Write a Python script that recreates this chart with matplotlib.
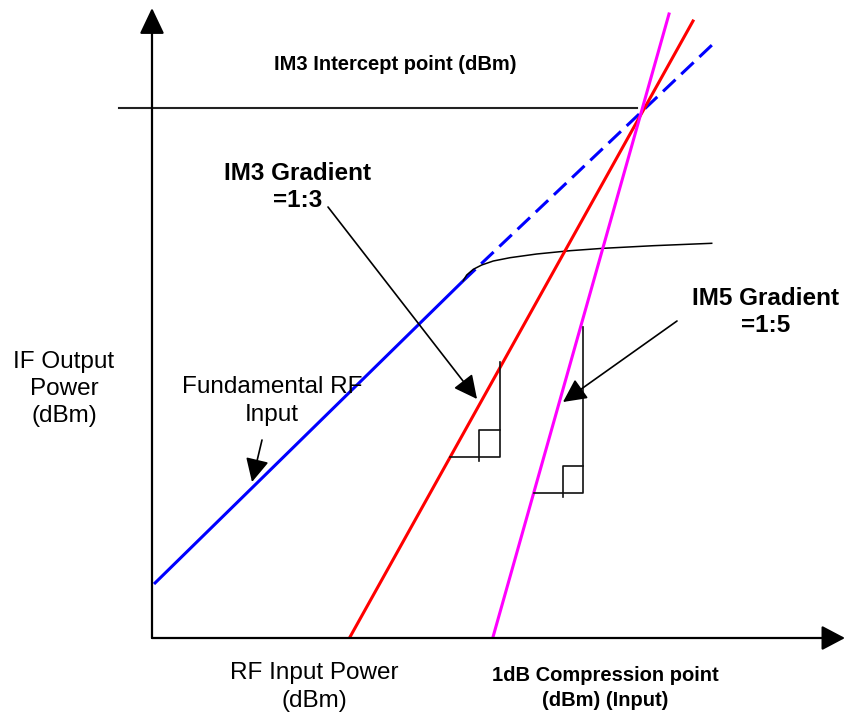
import matplotlib
matplotlib.use("Agg")
import matplotlib.pyplot as plt

# ── Data (arbitrary dB units, origin at the axes corner) ─────────────────────
fund_x = [0.2, 31.1]                 # fundamental, linear part
fund_y = [5.4, 35.7]
fund_ext_x = [31.1, 56.0]            # fundamental, extrapolated (dashed)
fund_ext_y = [35.7, 59.3]
comp_x = [31.1, 31.47, 32.13, 32.97, 34.13, 35.8, 38.47, 41.8, 45.13, 50.13, 55.97]
comp_y = [35.7, 36.3, 36.87, 37.3, 37.7, 38.03, 38.4, 38.73, 38.97, 39.23, 39.47]
im3_x = [19.8, 54.1]
im3_y = [0.1, 61.7]
im5_x = [34.1, 51.7]
im5_y = [0.1, 62.4]
ip3_level = 53.0
ip3_span = [-3.3, 48.5]

# slope triangles: (left x, corner x, base y, top y, box w, box h)
tri_im3 = (29.8, 34.8, 18.1, 27.6, 2.1, 2.7)
tri_im5 = (38.2, 43.1, 14.5, 31.1, 2.0, 2.7)

X_END = 69.3
Y_END = 63.0

BLUE = "#0000FF"
RED = "#FF0000"
MAG = "#FF00FF"
INK = "#111111"

plt.rcParams["font.family"] = ["Liberation Sans", "DejaVu Sans"]

fig = plt.figure(figsize=(8.44, 7.16), dpi=100)
ax = fig.add_axes([0, 0, 1, 1])
ax.set_xlim(-15.2, 69.2)
ax.set_ylim(-7.8, 63.8)
ax.axis("off")


def arrow(start, end, lw=1.2, hl=0.72, hw=0.36):
    ax.annotate("", xy=end, xytext=start, annotation_clip=False,
                arrowprops=dict(arrowstyle=f"-|>,head_length={hl},head_width={hw}",
                                color="black", lw=lw, shrinkA=0, shrinkB=0,
                                mutation_scale=20))


# ── Axes with arrow heads ────────────────────────────────────────────────────
arrow((0, 0), (0, Y_END), lw=1.6, hl=0.8, hw=0.38)
arrow((0, 0), (X_END, 0), lw=1.6, hl=0.72, hw=0.38)

# ── Curves ───────────────────────────────────────────────────────────────────
ax.plot(ip3_span, [ip3_level, ip3_level], color="#222222", lw=1.5)
ax.plot(fund_x, fund_y, color=BLUE, lw=2.2, solid_capstyle="butt")
ax.plot(fund_ext_x, fund_ext_y, color=BLUE, lw=2.2, dashes=(5.6, 2.6))
ax.plot(comp_x, comp_y, color="black", lw=1.1)
ax.plot(im3_x, im3_y, color=RED, lw=2.2)
ax.plot(im5_x, im5_y, color=MAG, lw=2.2)

# ── Slope triangles ──────────────────────────────────────────────────────────
for x0, x1, yb, yt, bw, bh in (tri_im3, tri_im5):
    ax.plot([x0, x1, x1], [yb, yb, yt], color=INK, lw=1.2)
    ax.plot([x1 - bw, x1 - bw, x1], [yb - 0.35, yb + bh, yb + bh], color=INK, lw=1.2)

# ── Pointer arrows ───────────────────────────────────────────────────────────
arrow((17.6, 43.1), (32.5, 23.9))
arrow((52.5, 31.7), (41.1, 23.6))
arrow((11.0, 19.8), (10.0, 15.6))

# ── Labels ───────────────────────────────────────────────────────────────────
ax.text(24.3, 57.4, "IM3 Intercept point (dBm)", ha="center", va="center",
        fontsize=14.5, fontweight="bold")
ax.text(14.6, 45.1, "IM3 Gradient\n=1:3", ha="center", va="center",
        fontsize=17.5, fontweight="bold", linespacing=1.2)
ax.text(61.4, 32.6, "IM5 Gradient\n=1:5", ha="center", va="center",
        fontsize=17.5, fontweight="bold", linespacing=1.2)
ax.text(-8.8, 24.9, "IF Output\nPower\n(dBm)", ha="center", va="center",
        fontsize=17.5, linespacing=1.27)
ax.text(12.0, 23.7, "Fundamental RF\nInput", ha="center", va="center",
        fontsize=17.5, linespacing=1.4)
ax.text(16.2, -4.9, "RF Input Power\n(dBm)", ha="center", va="center",
        fontsize=17.5, linespacing=1.38)
ax.text(45.3, -5.0, "1dB Compression point\n(dBm) (Input)", ha="center", va="center",
        fontsize=14.5, fontweight="bold", linespacing=1.4)

fig.savefig("out.png", dpi=100)
